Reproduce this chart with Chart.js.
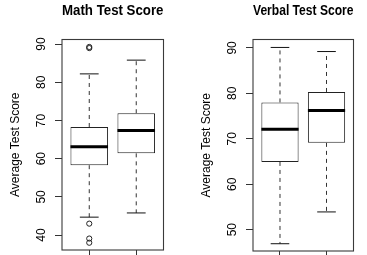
<!DOCTYPE html>
<html>
<head>
<meta charset="utf-8">
<script src="https://cdn.jsdelivr.net/npm/chart.js@4"></script>
<style>
  html, body { margin: 0; padding: 0; background: #ffffff; }
  body { width: 367px; height: 255px; position: relative; overflow: hidden; }
  canvas { position: absolute; top: 0; }
</style>
</head>
<body>
<canvas id="math" width="183" height="255" style="left:0px;width:183px;height:255px"></canvas>
<canvas id="verbal" width="176" height="255" style="left:191px;width:176px;height:255px"></canvas>
<script>
// ---- data ----
const groups = [1, 2];                       // box positions (two groups, unlabeled)

const mathLowerWhisker = [44.7, 45.8];
const mathQ1           = [58.3, 61.4];
const mathMedian       = [63.1, 67.4];
const mathQ3           = [68.3, 71.9];
const mathUpperWhisker = [82.2, 85.8];
const mathOutliers     = [[89.25, 88.95, 43.0, 39.1, 38.0], []];
const mathTicks        = [40, 50, 60, 70, 80, 90];

const verbalLowerWhisker = [46.9, 53.9];
const verbalQ1           = [64.9, 69.1];
const verbalMedian       = [72.1, 76.2];
const verbalQ3           = [78.0, 80.3];
const verbalUpperWhisker = [90.1, 89.2];
const verbalOutliers     = [[], []];
const verbalTicks        = [50, 60, 70, 80, 90];

const titles = ['Math Test Score', 'Verbal Test Score'];
const yTitle = 'Average Test Score';

// ---- drawing ----
const FONT = '"Liberation Sans", Arial, Helvetica, sans-serif';
const BOX_HALF = 0.4;   // R boxwex 0.8
const CAP_HALF = 0.2;   // R staplewex 0.5

function brk(x) { return { x: x, y: null }; }

const framePlugin = {
  id: 'frame',
  afterDatasetsDraw(chart) {
    const a = chart.chartArea, ctx = chart.ctx;
    ctx.save();
    ctx.strokeStyle = '#3a3a3a';
    ctx.lineWidth = 1.1;
    ctx.strokeRect(a.left, a.top, a.right - a.left, a.bottom - a.top);
    ctx.restore();
  },
  afterDraw(chart) {
    const ys = chart.scales.y, ctx = chart.ctx;
    ctx.save();
    ctx.fillStyle = '#000';
    ctx.font = '12px ' + FONT;
    ctx.textAlign = 'center';
    ctx.textBaseline = 'alphabetic';
    ys.ticks.forEach(t => {
      const py = ys.getPixelForValue(t.value);
      ctx.save();
      ctx.translate(chart.chartArea.left - 17, py);
      ctx.rotate(-Math.PI / 2);
      ctx.fillText(String(t.value), 0, 0);
      ctx.restore();
    });
    ctx.restore();
  }
};

function makeChart(id, title, lo, q1, med, q3, hi, outl, ticks, yMin, yMax, padRight) {
  const boxes = groups.map((g, i) => ({ x: g, y: [q1[i], q3[i]] }));
  const whiskers = [];
  const caps = [];
  const medians = [];
  const outPts = [];
  groups.forEach((g, i) => {
    whiskers.push({ x: g, y: q3[i] }, { x: g, y: hi[i] }, brk(g),
                  { x: g, y: q1[i] }, { x: g, y: lo[i] }, brk(g));
    caps.push({ x: g - CAP_HALF, y: hi[i] }, { x: g + CAP_HALF, y: hi[i] }, brk(g),
              { x: g - CAP_HALF, y: lo[i] }, { x: g + CAP_HALF, y: lo[i] }, brk(g));
    medians.push({ x: g - BOX_HALF, y: med[i] }, { x: g + BOX_HALF, y: med[i] }, brk(g));
    outl[i].forEach(v => outPts.push({ x: g, y: v }));
  });

  return new Chart(document.getElementById(id), {
    type: 'bar',
    data: {
      datasets: [
        { type: 'line', label: 'median', data: medians, order: 0,
          borderColor: '#000', borderWidth: 3, pointRadius: 0, spanGaps: false, fill: false },
        { type: 'line', label: 'caps', data: caps, order: 1,
          borderColor: '#111', borderWidth: 1, pointRadius: 0, spanGaps: false, fill: false },
        { type: 'line', label: 'whiskers', data: whiskers, order: 2,
          borderColor: '#333', borderWidth: 1, borderDash: [4, 4], pointRadius: 0, spanGaps: false, fill: false },
        { type: 'scatter', label: 'outliers', data: outPts, order: 3,
          showLine: false, pointStyle: 'circle', pointRadius: 2.6, pointBorderWidth: 1,
          pointBorderColor: '#222', pointBackgroundColor: 'rgba(0,0,0,0)' },
        { type: 'bar', label: 'box', data: boxes, order: 4,
          backgroundColor: '#fff', borderColor: '#222', borderWidth: 1, borderSkipped: false,
          categoryPercentage: 0.8, barPercentage: 1.0 }
      ]
    },
    options: {
      responsive: false,
      animation: false,
      events: [],
      layout: { padding: { left: 0, right: padRight, top: 0, bottom: 0 } },
      plugins: {
        legend: { display: false },
        tooltip: { enabled: false },
        title: {
          display: true, text: title, fullSize: false, color: '#000',
          font: { family: FONT, size: 15, weight: 'bold', lineHeight: 1.2 },
          padding: { top: 2, bottom: 19.5 }
        }
      },
      scales: {
        x: {
          type: 'linear', min: 0.42, max: 2.58, offset: false,
          afterBuildTicks: s => { s.ticks = groups.map(v => ({ value: v })); },
          afterFit: s => { s.height = 4; },
          grid: { offset: false, drawOnChartArea: false, drawTicks: true, tickLength: 7, color: '#333', lineWidth: 1 },
          border: { display: false },
          ticks: { display: false }
        },
        y: {
          type: 'linear', min: yMin, max: yMax,
          afterBuildTicks: s => { s.ticks = ticks.map(v => ({ value: v })); },
          afterFit: s => { s.width = 62; },
          grid: { drawOnChartArea: false, drawTicks: true, tickLength: 7, color: '#333', lineWidth: 1 },
          border: { display: false },
          ticks: { display: false },
          title: {
            display: true, text: yTitle, color: '#000',
            font: { family: FONT, size: 12, lineHeight: 1.2 },
            padding: { top: 8.5, bottom: 0 }
          }
        }
      }
    },
    plugins: [framePlugin]
  });
}

makeChart('math', titles[0], mathLowerWhisker, mathQ1, mathMedian, mathQ3, mathUpperWhisker,
          mathOutliers, mathTicks, 36.1, 91.2, 19.5);
makeChart('verbal', titles[1], verbalLowerWhisker, verbalQ1, verbalMedian, verbalQ3, verbalUpperWhisker,
          verbalOutliers, verbalTicks, 45.3, 91.85, 13.5);
</script>
</body>
</html>
